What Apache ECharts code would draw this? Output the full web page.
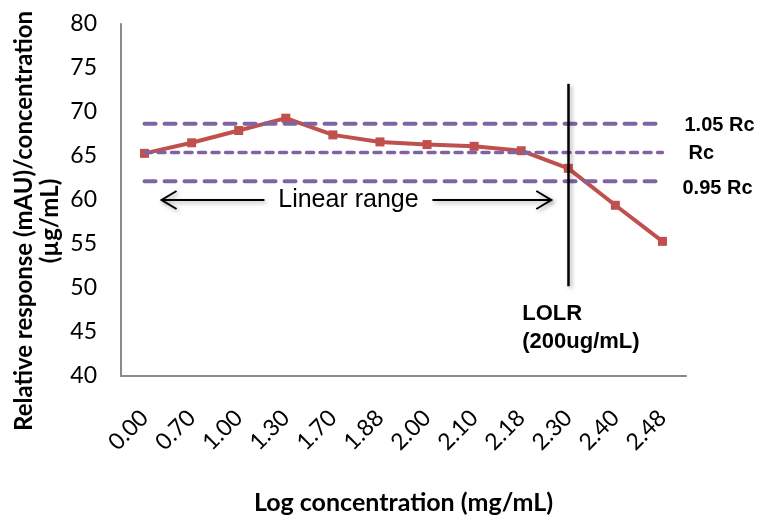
<!DOCTYPE html>
<html>
<head>
<meta charset="utf-8">
<script src="https://cdn.jsdelivr.net/npm/echarts@6/dist/echarts.min.js"></script>
<style>
  html, body { margin: 0; padding: 0; background: #fff; }
  #chart { width: 760px; height: 520px; }
</style>
</head>
<body>
<div id="chart"></div>
<script>
// Log concentration categories (mg/mL)
const categories = ['0.00', '0.70', '1.00', '1.30', '1.70', '1.88', '2.00', '2.10', '2.18', '2.30', '2.40', '2.48'];
// Relative response (mAU)/concentration (µg/mL)
const response = [65.3, 66.5, 67.9, 69.3, 67.4, 66.6, 66.3, 66.1, 65.6, 63.6, 59.4, 55.3];
// Reference levels: 1.05 Rc, Rc, 0.95 Rc
const upperRc = [68.67, 68.67, 68.67, 68.67, 68.67, 68.67, 68.67, 68.67, 68.67, 68.67, 68.67, 68.67];
const centerRc = [65.4, 65.4, 65.4, 65.4, 65.4, 65.4, 65.4, 65.4, 65.4, 65.4, 65.4, 65.4];
const lowerRc = [62.13, 62.13, 62.13, 62.13, 62.13, 62.13, 62.13, 62.13, 62.13, 62.13, 62.13, 62.13];
const yTicks = { min: 40, max: 80, interval: 5 };
// LOLR marker: category index and vertical extent
const lolrIndex = 9;
const lolrSpan = [73.2, 50.2];
const linearRangeLevel = 60;

const chart = echarts.init(document.getElementById('chart'), null, { renderer: 'canvas' });

const purple = '#8064A2';
const red = '#C0504D';
const calibri = 'Lato';
const arial = '"Liberation Sans", Arial, sans-serif';
const shadow = { shadowBlur: 4, shadowColor: 'rgba(0,0,0,0.35)', shadowOffsetX: 2, shadowOffsetY: 2 };

const option = {
  animation: false,
  backgroundColor: '#fff',
  grid: { left: 121, right: 74, top: 24, bottom: 139 },
  xAxis: {
    type: 'category',
    data: categories,
    boundaryGap: true,
    axisLine: { show: true, lineStyle: { color: '#8a8a8a', width: 2 } },
    axisTick: { show: false },
    axisLabel: { rotate: 45, margin: 38, color: '#000', fontFamily: calibri, fontSize: 23, interval: 0 },
    name: 'Log concentration (mg/mL)',
    nameLocation: 'middle',
    nameGap: 114,
    nameTextStyle: { color: '#000', fontFamily: calibri, fontWeight: 'bold', fontSize: 25 }
  },
  yAxis: {
    type: 'value',
    min: yTicks.min,
    max: yTicks.max,
    interval: yTicks.interval,
    axisLine: { show: true, lineStyle: { color: '#8a8a8a', width: 2 } },
    axisTick: { show: false },
    splitLine: { show: false },
    axisLabel: { margin: 24, color: '#000', fontFamily: calibri, fontSize: 23 }
  },
  series: [
    {
      name: 'Response',
      type: 'line',
      data: response,
      symbol: 'rect',
      symbolSize: 9,
      itemStyle: { color: red },
      lineStyle: { color: red, width: 4 },
      z: 2,
      markLine: {
        silent: true,
        symbol: ['none', 'none'],
        label: { show: false },
        lineStyle: Object.assign({ color: '#000', width: 2.5, type: 'solid' }, shadow),
        data: [[{ coord: [lolrIndex, lolrSpan[0]] }, { coord: [lolrIndex, lolrSpan[1]] }]]
      }
    },
    {
      name: '1.05 Rc', type: 'line', data: upperRc, symbol: 'none', z: 3,
      lineStyle: { color: purple, width: 4, type: [11, 9], cap: 'round' }
    },
    {
      name: 'Rc', type: 'line', data: centerRc, symbol: 'none', z: 3,
      lineStyle: { color: purple, width: 3.5, type: [7, 6.5], cap: 'round' }
    },
    {
      name: '0.95 Rc', type: 'line', data: lowerRc, symbol: 'none', z: 3,
      lineStyle: { color: purple, width: 4, type: [11, 9], cap: 'round' }
    }
  ]
};

chart.setOption(option);

// Annotations positioned from the axes
const px = (i, v) => chart.convertToPixel({ gridIndex: 0 }, [i, v]);
const last = categories.length - 1;
const pUpper = px(last, upperRc[last]);
const pCenter = px(last, centerRc[last]);
const pLower = px(last, lowerRc[last]);
const pStart = px(0, linearRangeLevel);
const pLolr = px(lolrIndex, linearRangeLevel);

const arrowY = pStart[1];
const leftTip = pStart[0] + 17;
const rightTip = pLolr[0] - 17;
const textCenter = (leftTip + rightTip) / 2 - 8;
const textHalf = 84;

const refLabel = (text, x, y) => ({
  type: 'text', x: x, y: y,
  style: { text: text, fill: '#000', font: 'bold 20px ' + arial, textAlign: 'left', textVerticalAlign: 'middle' }
});

const arrowStyle = Object.assign({ stroke: '#000', lineWidth: 2, fill: null }, shadow);

chart.setOption({
  graphic: [
    refLabel('1.05 Rc', pUpper[0] + 22, pUpper[1] + 2),
    refLabel('Rc', pCenter[0] + 26, pCenter[1] + 1),
    refLabel('0.95 Rc', pLower[0] + 20, pLower[1] + 7),
    {
      type: 'text', x: pLolr[0] - 46, y: px(lolrIndex, 47.1)[1],
      style: { text: 'LOLR', fill: '#000', font: 'bold 22px ' + arial, textAlign: 'left', textVerticalAlign: 'middle' }
    },
    {
      type: 'text', x: pLolr[0] - 46, y: px(lolrIndex, 43.85)[1],
      style: { text: '(200ug/mL)', fill: '#000', font: 'bold 22px ' + arial, textAlign: 'left', textVerticalAlign: 'middle' }
    },
    {
      type: 'text', x: textCenter, y: arrowY,
      style: { text: 'Linear range', fill: '#000', font: '25px ' + arial, textAlign: 'center', textVerticalAlign: 'middle' }
    },
    { type: 'line', shape: { x1: leftTip, y1: arrowY, x2: textCenter - textHalf, y2: arrowY }, style: arrowStyle },
    { type: 'polyline', shape: { points: [[leftTip + 15, arrowY - 9], [leftTip, arrowY], [leftTip + 15, arrowY + 9]] }, style: arrowStyle },
    { type: 'line', shape: { x1: textCenter + textHalf, y1: arrowY, x2: rightTip, y2: arrowY }, style: arrowStyle },
    { type: 'polyline', shape: { points: [[rightTip - 15, arrowY - 9], [rightTip, arrowY], [rightTip - 15, arrowY + 9]] }, style: arrowStyle },
    {
      type: 'text', x: 37, y: 221, rotation: Math.PI / 2,
      style: {
        text: 'Relative response (mAU)/concentration\n(µg/mL)',
        fill: '#000', font: 'bold 24px ' + calibri, textAlign: 'center', textVerticalAlign: 'middle', lineHeight: 26
      }
    }
  ]
});
</script>
</body>
</html>
